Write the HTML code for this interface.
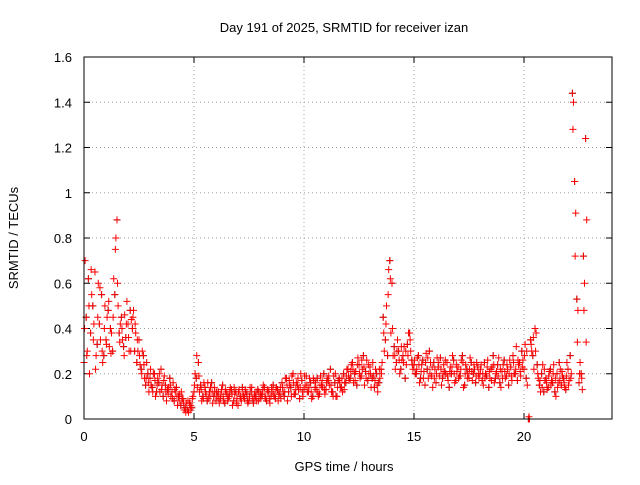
<!DOCTYPE html>
<html><head><meta charset="utf-8"><style>
body{margin:0;background:#fff}
svg text{font-family:"Liberation Sans",sans-serif;font-size:13px;fill:#000}
</style></head><body>
<svg id="chart" width="640" height="480">
<text x="344" y="32" text-anchor="middle">Day 191 of 2025, SRMTID for receiver izan</text>
<text x="344" y="471" text-anchor="middle">GPS time / hours</text>
<text transform="translate(18,238) rotate(-90)" text-anchor="middle">SRMTID / TECUs</text>
<g id="grid"></g><g id="ticks"></g><g id="marks"></g>
<rect x="84" y="57" width="528" height="362" fill="none" stroke="#000"/>
</svg>
<script>
const xTicks=[0,5,10,15,20];
const yTicks=[0,0.2,0.4,0.6,0.8,1,1.2,1.4,1.6];
const yTickLabels=["0","0.2","0.4","0.6","0.8","1","1.2","1.4","1.6"];
const seriesA=[.25,.45,.62,.38,.5,.65,.33,.42,.55,.28,.35,.48,.40,.30,.55,.88,.38,.45,.32,.36,.42,.48,.40,.30,.25,.35,.22,.28,.15,.20,
.18,.14,.20,.12,.16,.22,.10,.15,.13,.18,.12,.08,.14,.10,.06,.09,.05,.04,.07,.05,.12,.18,.25,.15,.10,.14,.08,.12,.16,.10,
.08,.12,.09,.15,.07,.11,.10,.13,.08,.12,.06,.10,.14,.09,.11,.08,.12,.07,.10,.13,.09,.11,.14,.08,.12,.10,.15,.09,.13,.11,
.16,.10,.18,.12,.14,.20,.11,.15,.09,.17,.13,.19,.12,.16,.10,.14,.18,.11,.15,.20,.13,.17,.22,.12,.16,.10,.18,.14,.20,.16,
.22,.18,.25,.20,.15,.24,.19,.28,.21,.17,.23,.18,.14,.20,.16,.22,.45,.35,.28,.70,.60,.32,.25,.30,.22,.28,.18,.33,.38,.26,
.24,.20,.28,.18,.26,.15,.22,.30,.19,.25,.16,.23,.27,.18,.21,.25,.14,.20,.26,.17,.23,.19,.28,.15,.22,.18,.25,.20,.16,.23,
.20,.17,.25,.19,.14,.22,.28,.18,.24,.16,.21,.26,.19,.15,.23,.28,.20,.17,.25,.30,.22,.18,.0,.35,.28,.40,.24,.15,.20,.12,
.18,.14,.22,.16,.12,.20,.25,.15,.18,.13,.22,.28,1.44,1.05,.53,.16,.20,.72,1.24];
const seriesB=[.70,.30,.20,.55,.42,.28,.60,.35,.25,.50,.45,.32,.38,.62,.80,.50,.42,.35,.46,.52,.30,.44,.48,.38,.30,.24,.30,.18,.25,.12,
.15,.20,.10,.18,.12,.15,.19,.08,.14,.10,.16,.12,.06,.11,.09,.04,.07,.03,.06,.10,.20,.14,.12,.08,.16,.11,.09,.14,.07,.12,
.10,.07,.13,.08,.12,.09,.14,.06,.11,.09,.13,.08,.10,.12,.07,.14,.09,.11,.08,.12,.10,.15,.09,.13,.07,.12,.10,.14,.11,.09,
.12,.18,.08,.15,.19,.11,.16,.13,.20,.10,.15,.12,.18,.09,.17,.13,.10,.19,.14,.11,.18,.15,.12,.19,.10,.17,.14,.12,.16,.22,
.17,.24,.16,.21,.27,.18,.22,.15,.26,.20,.14,.19,.22,.12,.18,.25,.30,.50,.66,.38,.28,.22,.35,.20,.26,.32,.24,.38,.30,.22,
.20,.27,.16,.24,.21,.29,.18,.25,.14,.22,.27,.19,.15,.24,.20,.17,.23,.28,.16,.21,.19,.26,.14,.24,.20,.27,.17,.22,.25,.18,
.24,.15,.20,.26,.18,.23,.16,.21,.27,.14,.24,.18,.22,.26,.17,.20,.32,.24,.19,.26,.33,.15,.0,.30,.22,.38,.18,.12,.24,.17,
.13,.21,.17,.24,.10,.16,.22,.19,.14,.25,.17,.20,1.40,.91,.48,.25,.13,.60,.88];
const seriesC=[.40,.28,.50,.66,.35,.22,.45,.58,.30,.40,.33,.52,.29,.45,.75,.60,.34,.40,.28,.42,.36,.30,.45,.42,.35,.28,.20,.24,.18,.16,
.22,.12,.17,.15,.20,.13,.17,.12,.11,.15,.09,.13,.10,.08,.12,.07,.03,.08,.04,.09,.15,.28,.19,.13,.09,.12,.16,.10,.12,.14,
.12,.09,.11,.10,.13,.08,.12,.11,.14,.07,.12,.09,.11,.13,.08,.10,.14,.09,.12,.08,.11,.13,.10,.12,.09,.14,.11,.13,.08,.14,
.14,.12,.15,.17,.10,.16,.13,.18,.14,.12,.19,.15,.14,.12,.18,.16,.12,.15,.17,.13,.16,.19,.15,.10,.20,.14,.16,.18,.13,.19,
.19,.21,.22,.17,.24,.20,.26,.23,.18,.24,.20,.25,.17,.15,.22,.20,.38,.42,.55,.62,.40,.28,.30,.26,.32,.25,.30,.28,.35,.24,
.26,.22,.24,.21,.18,.25,.27,.20,.23,.18,.20,.25,.22,.20,.26,.19,.21,.23,.20,.24,.18,.22,.25,.20,.18,.22,.21,.24,.19,.20,
.22,.20,.18,.23,.21,.17,.24,.20,.19,.22,.18,.21,.24,.20,.19,.25,.22,.26,.21,.23,.28,.30,.01,.33,.36,.30,.20,.17,.14,.22,
.16,.19,.15,.20,.18,.14,.17,.21,.16,.19,.15,.18,1.28,.72,.34,.20,.18,.48,.34];
const X0=84,X1=612,Y0=419,Y1=57,XMAX=24,YMAX=1.6;
const xs=t=>X0+(X1-X0)*t/XMAX;
const ys=v=>Y0-(Y0-Y1)*v/YMAX;
const NS="http://www.w3.org/2000/svg";
function mk(tag,attrs,parent){const e=document.createElementNS(NS,tag);for(const k in attrs)e.setAttribute(k,attrs[k]);document.getElementById(parent).appendChild(e);return e;}
xTicks.forEach(t=>{
 const x=xs(t);
 if(t>0){const g=mk('line',{x1:x,x2:x,y1:Y0,y2:Y1,stroke:'#a0a0a0','stroke-dasharray':'1,3'},'grid');
 
 }
 const l=mk('text',{x:x,y:Y0+22,'text-anchor':'middle'},'ticks');l.textContent=t;
 
 
 mk('line',{x1:x,x2:x,y1:Y0,y2:Y0-6,stroke:'#000'},'ticks');
 mk('line',{x1:x,x2:x,y1:Y1,y2:Y1+6,stroke:'#000'},'ticks');
});
yTicks.forEach((v,i)=>{
 const y=ys(v);
 if(v>0&&v<YMAX){const g=mk('line',{x1:X0,x2:X1,y1:y,y2:y,stroke:'#a0a0a0','stroke-dasharray':'1,3'},'grid');
 
 }
 const l=mk('text',{x:X0-12,y:y+5,'text-anchor':'end'},'ticks');l.textContent=yTickLabels[i];
 
 
 mk('line',{x1:X0,x2:X0+6,y1:y,y2:y,stroke:'#000'},'ticks');
 mk('line',{x1:X1,x2:X1-6,y1:y,y2:y,stroke:'#000'},'ticks');
});
function plus(t,v,color){
 const x=xs(t),y=ys(v);
 const p=mk('path',{d:`M${x-3.5},${y}H${x+3.5}M${x},${y-3.5}V${y+3.5}`,stroke:color,'stroke-width':1,fill:'none'},'marks');
 
 
}
seriesA.forEach((v,i)=>plus(i*0.1,v,'#202020'));
seriesC.forEach((v,i)=>plus(i*0.1+0.025,v,'#ff0000'));
seriesA.forEach((v,i)=>plus(i*0.1,v,'#ff0000'));
seriesB.forEach((v,i)=>plus(i*0.1+0.05,v,'#ff0000'));
</script>
</body></html>
